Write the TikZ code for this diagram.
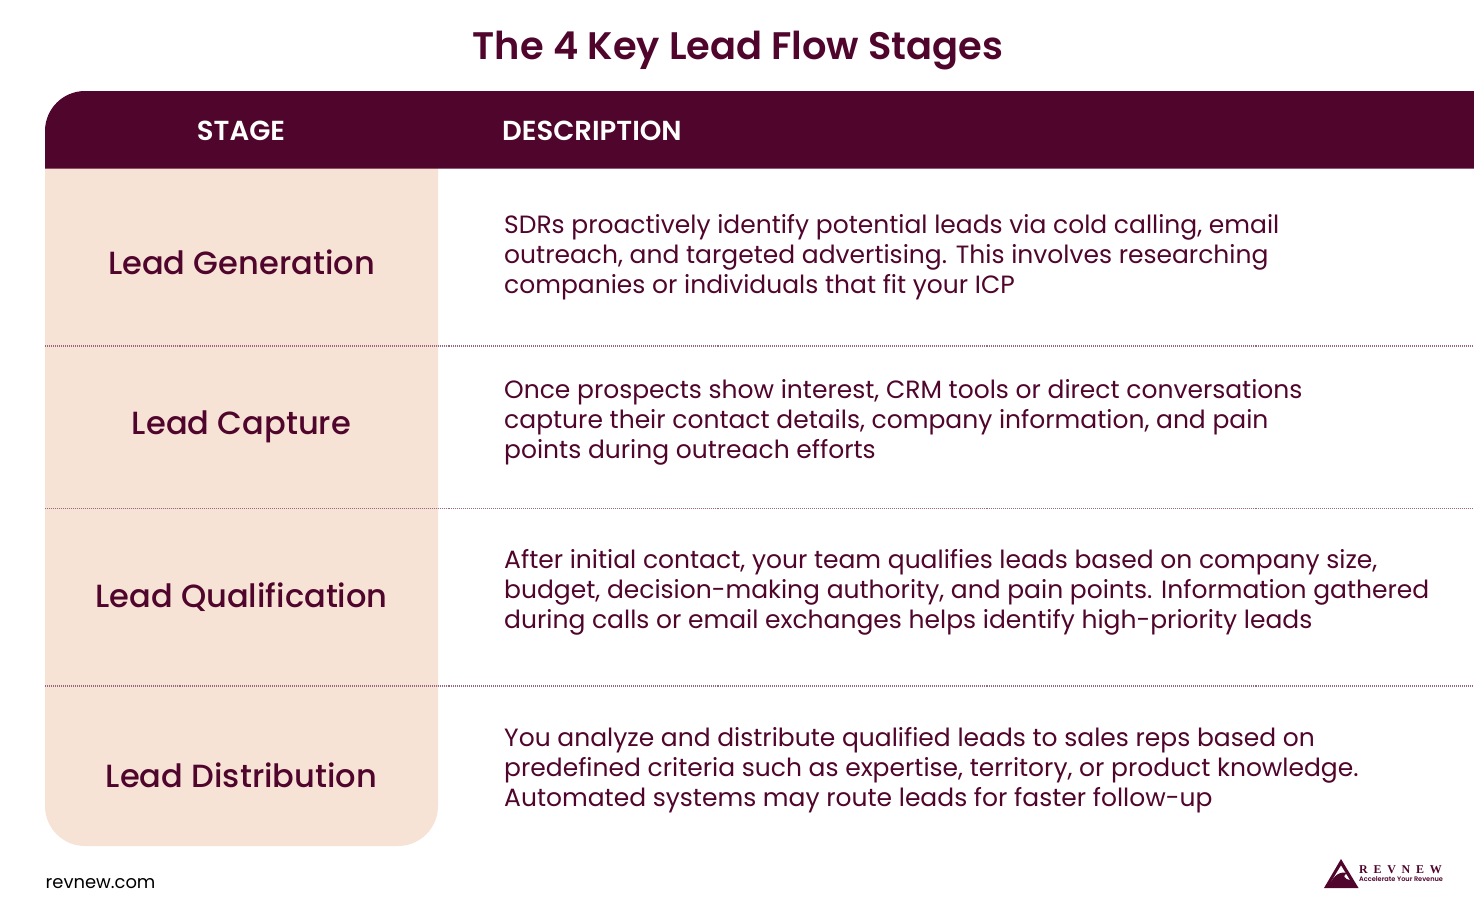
\documentclass[tikz,border=0pt]{standalone}
\usepackage{fontspec}
\setmainfont{Poppins}
\newfontfamily\medfont{Poppins Medium}
\newfontfamily\semifont{Poppins SemiBold}
\newfontfamily\logofont[LetterSpace=48]{Liberation Serif Bold}
\usetikzlibrary{positioning}
\definecolor{wine}{HTML}{50052C}
\definecolor{peach}{HTML}{F7E3D6}
\tikzstyle{title} = [wine, font=\semifont\fontsize{38.5}{40}\selectfont, inner sep=0pt]
\tikzstyle{head} = [white, font=\semifont\fontsize{27.6}{30}\selectfont, inner sep=0pt]
\tikzstyle{stage} = [wine, font=\medfont\fontsize{32.2}{36}\selectfont, inner sep=0pt]
\tikzstyle{descr} = [wine, anchor=west, align=left, inner sep=0pt, font=\fontsize{25.07}{30}\selectfont]
\tikzstyle{rowline} = [wine!60, line width=1.4pt, dash pattern=on 1pt off 1pt]
\tikzstyle{foot} = [black, anchor=west, inner sep=0pt, font=\fontsize{18}{20}\selectfont]
\newcommand{\drawRow}[4]{
  \node[stage] (#1) at (241.5,#2+8) {#3};
  \node[descr] (#1text) at (504,#2+3) {#4};
}
\begin{document}
\begin{tikzpicture}[x=1bp,y=-1bp]
  \useasboundingbox (0,0) rectangle (1474,913);
  \fill[white] (0,0) rectangle (1474,913);
  \node[title] (maintitle) at (738,51) {The 4 Key Lead Flow Stages};

  % table panels
  \fill[peach] (45,168) -- (438,168) -- (438,806) arc (0:90:40) -- (85,846) arc (90:180:40) -- cycle;
  \fill[wine] (1474,91) -- (85,91) arc (270:180:40) -- (45,168.5) -- (1474,168.5) -- cycle;
  \node[head] (stagehead) at (241,130.5) {STAGE};
  \node[head, anchor=west] (deschead) at (502,130.5) {DESCRIPTION};

  % rows
  \drawRow{gen}{254}{Lead Generation}{SDRs proactively identify potential leads via cold calling, email\\outreach, and targeted advertising. This involves researching\\companies or individuals that fit your ICP}
  \drawRow{capture}{419}{Lead Capture}{Once prospects show interest, CRM tools or direct conversations\\capture their contact details, company information, and pain\\points during outreach efforts}
  \drawRow{qual}{589}{Lead Qualification}{After initial contact, your team qualifies leads based on company size,\\budget, decision-making authority, and pain points. Information gathered\\during calls or email exchanges helps identify high-priority leads}
  \drawRow{dist}{767}{Lead Distribution}{You analyze and distribute qualified leads to sales reps based on\\predefined criteria such as expertise, territory, or product knowledge.\\Automated systems may route leads for faster follow-up}
  \foreach \y in {346,508.5,686}
    \draw[rowline] (45,\y) -- (1474,\y);

  % footer and logo
  \node[foot] (site) at (45.5,884) {revnew.com};
  \fill[wine] (1324,888) -- (1341,859) -- (1358.5,888) -- cycle;
  \fill[white] (1341,865.5) -- (1331,882) -- (1351,882) -- cycle;
  \fill[wine] (1330,884) .. controls (1333,876) and (1341,870) .. (1348,873.5) .. controls (1342,874) and (1343,880) .. (1352,880) -- (1353,884) -- cycle;
  \node[wine, anchor=west, inner sep=0pt, font=\logofont\fontsize{12}{13}\selectfont] (logoname) at (1359,869.5) {REVNEW};
  \node[wine, anchor=west, inner sep=0pt, font=\semifont\fontsize{6.6}{7}\selectfont] (logotag) at (1359,879.5) {Accelerate Your Revenue};
\end{tikzpicture}
\end{document}
